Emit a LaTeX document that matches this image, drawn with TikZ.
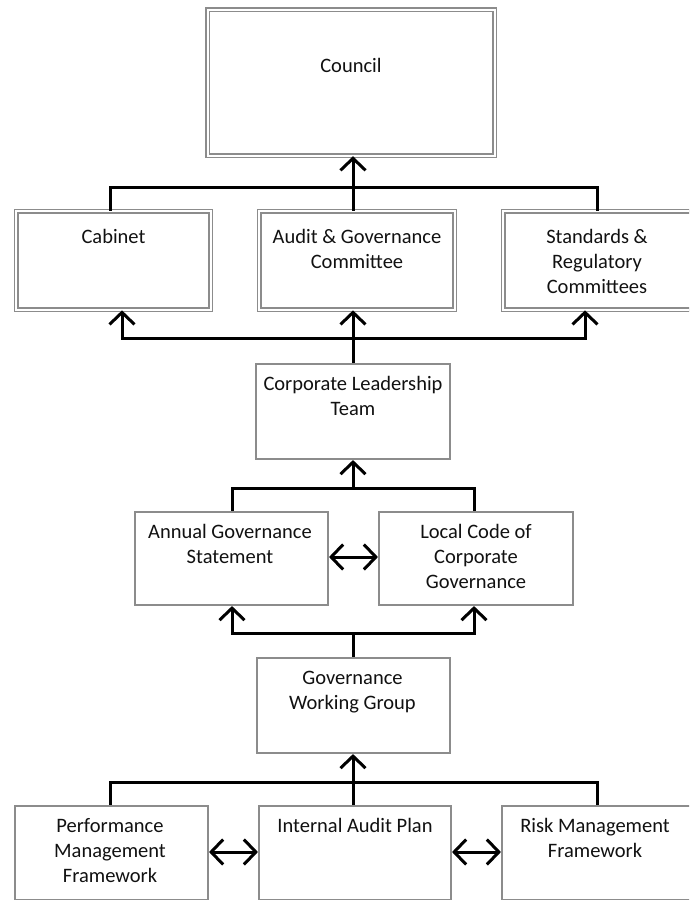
\documentclass[tikz,border=0pt]{standalone}
\usepackage{fontspec}
\setmainfont{Carlito}
\usetikzlibrary{arrows.meta}
\definecolor{boxgray}{HTML}{8C8C8C}
\definecolor{textcol}{HTML}{111111}
\newcommand{\boxlines}[1]{\parbox[t]{240pt}{\centering #1}}
\begin{document}
\begin{tikzpicture}[x=1pt,y=-1pt,
  box/.style={draw=boxgray, line width=1.7pt, fill=white, inner sep=0pt, rectangle},
  dbox/.style={draw=boxgray, line width=1.5pt, double=white, double distance=2pt, inner sep=0pt, rectangle},
  txt/.style={font=\fontsize{20.5}{25}\selectfont, text=textcol, inner sep=0pt, anchor=base},
  conn/.style={line width=3pt, draw=black},
  arr/.style={conn, -{Straight Barb[length=12pt,width=25pt]}},
  darr/.style={conn, {Straight Barb[length=12pt,width=25pt]}-{Straight Barb[length=12pt,width=25pt]}},
]
\useasboundingbox (0,0) rectangle (689,900);
\clip (0,0) rectangle (689,900);

% boxes
\node[dbox, minimum width=287pt, minimum height=146pt] (council) at (351,82.5) {};
\node[dbox, minimum width=194.2pt, minimum height=98.2pt] (cab) at (113.5,260.5) {};
\node[dbox, minimum width=195.2pt, minimum height=98.2pt] (aud) at (357,260.5) {};
\node[dbox, minimum width=198.6pt, minimum height=98.2pt] (std) at (602.7,260.5) {};
\node[box, minimum width=194.4pt, minimum height=95.4pt] (clt) at (353,411.5) {};
\node[box, minimum width=193.4pt, minimum height=93.4pt] (ags) at (231.5,558.5) {};
\node[box, minimum width=194.4pt, minimum height=93.4pt] (lccg) at (476,558.5) {};
\node[box, minimum width=193.4pt, minimum height=95.4pt] (gwg) at (353.5,705.5) {};
\node[box, minimum width=193.4pt, minimum height=93.7pt] (pmf) at (111.5,852.65) {};
\node[box, minimum width=192.4pt, minimum height=93.7pt] (iap) at (355,852.65) {};
\node[box, minimum width=200.2pt, minimum height=93.7pt] (rmf) at (601.9,852.65) {};

% texts
\node[txt] (councilT) at (351,72) {\boxlines{Council}};
\node[txt] (cabT) at (113.5,243) {\boxlines{Cabinet}};
\node[txt] (audT) at (357,243) {\boxlines{Audit \& Governance\\Committee}};
\node[txt] (stdT) at (597,243) {\boxlines{Standards \&\\Regulatory\\Committees}};
\node[txt] (cltT) at (353,390) {\boxlines{Corporate Leadership\\Team}};
\node[txt] (agsT) at (230,538) {\boxlines{Annual Governance\\Statement}};
\node[txt] (lccgT) at (476,538) {\boxlines{Local Code of\\Corporate\\Governance}};
\node[txt] (gwgT) at (352.5,684) {\boxlines{Governance\\Working Group}};
\node[txt] (pmfT) at (110,832) {\boxlines{Performance\\Management\\Framework}};
\node[txt] (iapT) at (355,832) {\boxlines{Internal Audit Plan}};
\node[txt] (rmfT) at (595,832) {\boxlines{Risk Management\\Framework}};

% bus coordinates
\coordinate (b1L) at (110,187);  \coordinate (b1M) at (353,187);  \coordinate (b1R) at (597,187);
\coordinate (b2L) at (122,338);  \coordinate (b2M) at (353,338);  \coordinate (b2R) at (585,338);
\coordinate (b3L) at (232,488);  \coordinate (b3M) at (353,488);  \coordinate (b3R) at (474,488);
\coordinate (b4L) at (232,633);  \coordinate (b4M) at (353,633);  \coordinate (b4R) at (474,633);
\coordinate (b5L) at (110,782);  \coordinate (b5M) at (353,782);  \coordinate (b5R) at (597,782);
\coordinate (y557) at (0,557);
\coordinate (y852) at (0,852);

% level 1: row -> council
\draw[conn] (b1L |- cab.north) -- (b1L) -- (b1R) -- (b1R |- std.north);
\draw[arr] (b1M |- aud.north) -- (b1M |- council.south);

% level 2: CLT -> row
\draw[conn] (b2M |- clt.north) -- (b2M);
\draw[arr] (b2M) -- (b2M |- aud.south);
\draw[arr] (b2M) -- (b2L) -- (b2L |- cab.south);
\draw[arr] (b2M) -- (b2R) -- (b2R |- std.south);

% level 3: AGS/LCCG -> CLT
\draw[conn] (b3L |- ags.north) -- (b3L) -- (b3R) -- (b3R |- lccg.north);
\draw[arr] (b3M) -- (b3M |- clt.south);
\draw[darr] (ags.east |- y557) -- (lccg.west |- y557);

% level 4: GWG -> AGS/LCCG
\draw[conn] (b4M |- gwg.north) -- (b4M);
\draw[arr] (b4M) -- (b4L) -- (b4L |- ags.south);
\draw[arr] (b4M) -- (b4R) -- (b4R |- lccg.south);

% level 5: bottom row -> GWG
\draw[conn] (b5L |- pmf.north) -- (b5L) -- (b5R) -- (b5R |- rmf.north);
\draw[arr] (b5M |- iap.north) -- (b5M |- gwg.south);
\draw[darr] (pmf.east |- y852) -- (iap.west |- y852);
\draw[darr] (iap.east |- y852) -- (rmf.west |- y852);
\end{tikzpicture}
\end{document}
